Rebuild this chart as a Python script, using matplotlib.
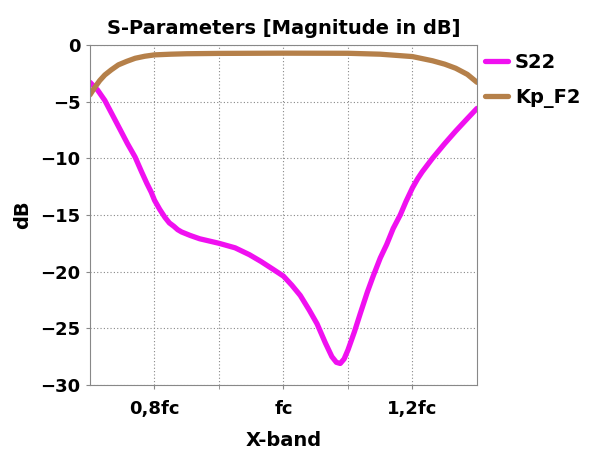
import numpy as np
from matplotlib import pyplot as plt

# frequency in units of fc
s22_x = [0.700, 0.712, 0.723, 0.735, 0.747, 0.758, 0.770, 0.780, 0.788, 0.795,
         0.800, 0.808, 0.816, 0.823, 0.830, 0.836, 0.842, 0.855, 0.870, 0.885,
         0.900, 0.925, 0.947, 0.965, 0.984, 1.000, 1.013, 1.026, 1.040, 1.052,
         1.065, 1.075, 1.082, 1.088, 1.094, 1.100, 1.110, 1.119, 1.130, 1.139,
         1.150, 1.160, 1.170, 1.181, 1.190, 1.200, 1.208, 1.215, 1.231, 1.250,
         1.267, 1.285, 1.300]
s22_db = [-3.3, -4.0, -4.9, -6.2, -7.5, -8.7, -9.9, -11.2, -12.2, -13.0,
          -13.7, -14.5, -15.2, -15.7, -16.0, -16.3, -16.5, -16.8, -17.1, -17.3,
          -17.5, -17.9, -18.5, -19.1, -19.8, -20.4, -21.2, -22.1, -23.4, -24.6,
          -26.3, -27.5, -28.0, -28.1, -27.7, -26.9, -25.3, -23.7, -21.8, -20.4,
          -18.8, -17.6, -16.2, -15.0, -13.8, -12.6, -11.8, -11.2, -10.0, -8.7,
          -7.6, -6.5, -5.6]

kp_x = [0.700, 0.708, 0.715, 0.723, 0.733, 0.744, 0.757, 0.770, 0.785, 0.800,
        0.825, 0.850, 0.900, 1.000, 1.100, 1.150, 1.200, 1.231, 1.250, 1.267,
        1.285, 1.300]
kp_db = [-4.4, -3.7, -3.15, -2.65, -2.2, -1.76, -1.45, -1.18, -1.0, -0.88,
         -0.82, -0.78, -0.75, -0.73, -0.74, -0.82, -1.03, -1.4, -1.7, -2.06,
         -2.6, -3.3]

xticks = [0.8, 1.0, 1.2]
xtick_labels = ['0,8fc', 'fc', '1,2fc']
yticks = [0, -5, -10, -15, -20, -25, -30]

fig = plt.figure(figsize=(6, 4.49), dpi=100)
ax = fig.add_axes([0.15, 0.1425, 0.645, 0.7575])

ax.plot(s22_x, s22_db, color='#F010F0', lw=3.8, label='S22', solid_capstyle='round')
ax.plot(kp_x, kp_db, color='#B5804A', lw=3.8, label='Kp_F2', solid_capstyle='round')

ax.set_xlim(0.7, 1.3)
ax.set_ylim(-30, 0)
ax.set_xticks(xticks)
ax.set_xticklabels(xtick_labels)
ax.set_xticks([0.9, 1.1], minor=True)
ax.set_yticks(yticks)
ax.grid(True, which='both', ls=(0, (1, 2)), color='#888888', lw=0.8)
for s in ax.spines.values():
    s.set_color('#888888')
ax.tick_params(which='both', length=3, color='#888888', labelsize=13)
ax.tick_params(axis='x', pad=8)
ax.tick_params(axis='y', pad=4)
for lab in ax.get_xticklabels() + ax.get_yticklabels():
    lab.set_fontweight('bold')

ax.set_title('S-Parameters [Magnitude in dB]', fontsize=14, fontweight='bold', pad=8)
ax.set_xlabel('X-band', fontsize=14, fontweight='bold', labelpad=9)
ax.set_ylabel('dB', fontsize=14, fontweight='bold', labelpad=6)

ax.legend(loc='upper left', bbox_to_anchor=(1.0, 1.0), frameon=False,
          prop={'weight': 'bold', 'size': 14}, handlelength=1.2,
          handletextpad=0.35, borderaxespad=0.0, borderpad=0.4,
          labelspacing=0.85)

fig.savefig('out.png', dpi=100)
